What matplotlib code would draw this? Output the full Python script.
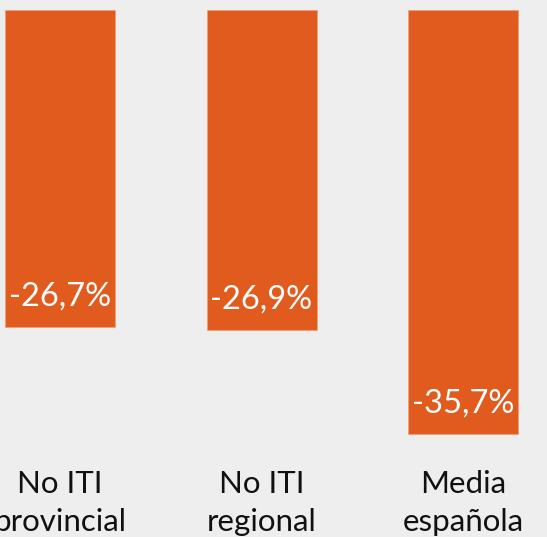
import matplotlib
matplotlib.use("Agg")
import matplotlib.pyplot as plt

categories = ["No ITI\nprovincial", "No ITI\nregional", "Media\nespañola"]
values = [-26.7, -26.9, -35.7]
labels = ["-26,7%", "-26,9%", "-35,7%"]

BG = "#eeeeee"
ORANGE = "#e15b1f"
plt.rcParams["font.family"] = ["Lato", "DejaVu Sans"]

fig = plt.figure(figsize=(5.47, 5.37), dpi=100, facecolor=BG)
ax = fig.add_axes([0, 0, 1, 1])
ax.set_facecolor(BG)

x = range(len(values))
ax.bar(x, values, width=0.546, color=ORANGE, edgecolor="#f0a07a", linewidth=0.6)

for i, (v, t) in enumerate(zip(values, labels)):
    ax.text(i, v + 2.55, t, ha="center", va="center", color="white", fontsize=23.5)
for i, c in enumerate(categories):
    ax.text(i, -38.72, c, ha="center", va="top", color="#111111", fontsize=22.5,
            linespacing=1.42)

# axes span the whole canvas; limits put bars where the reference has them
ax.set_xlim(-0.298, 2.417)
ax.set_ylim(-44.36, 0.84)
ax.axis("off")

fig.savefig("out.png", dpi=100, facecolor=BG)
